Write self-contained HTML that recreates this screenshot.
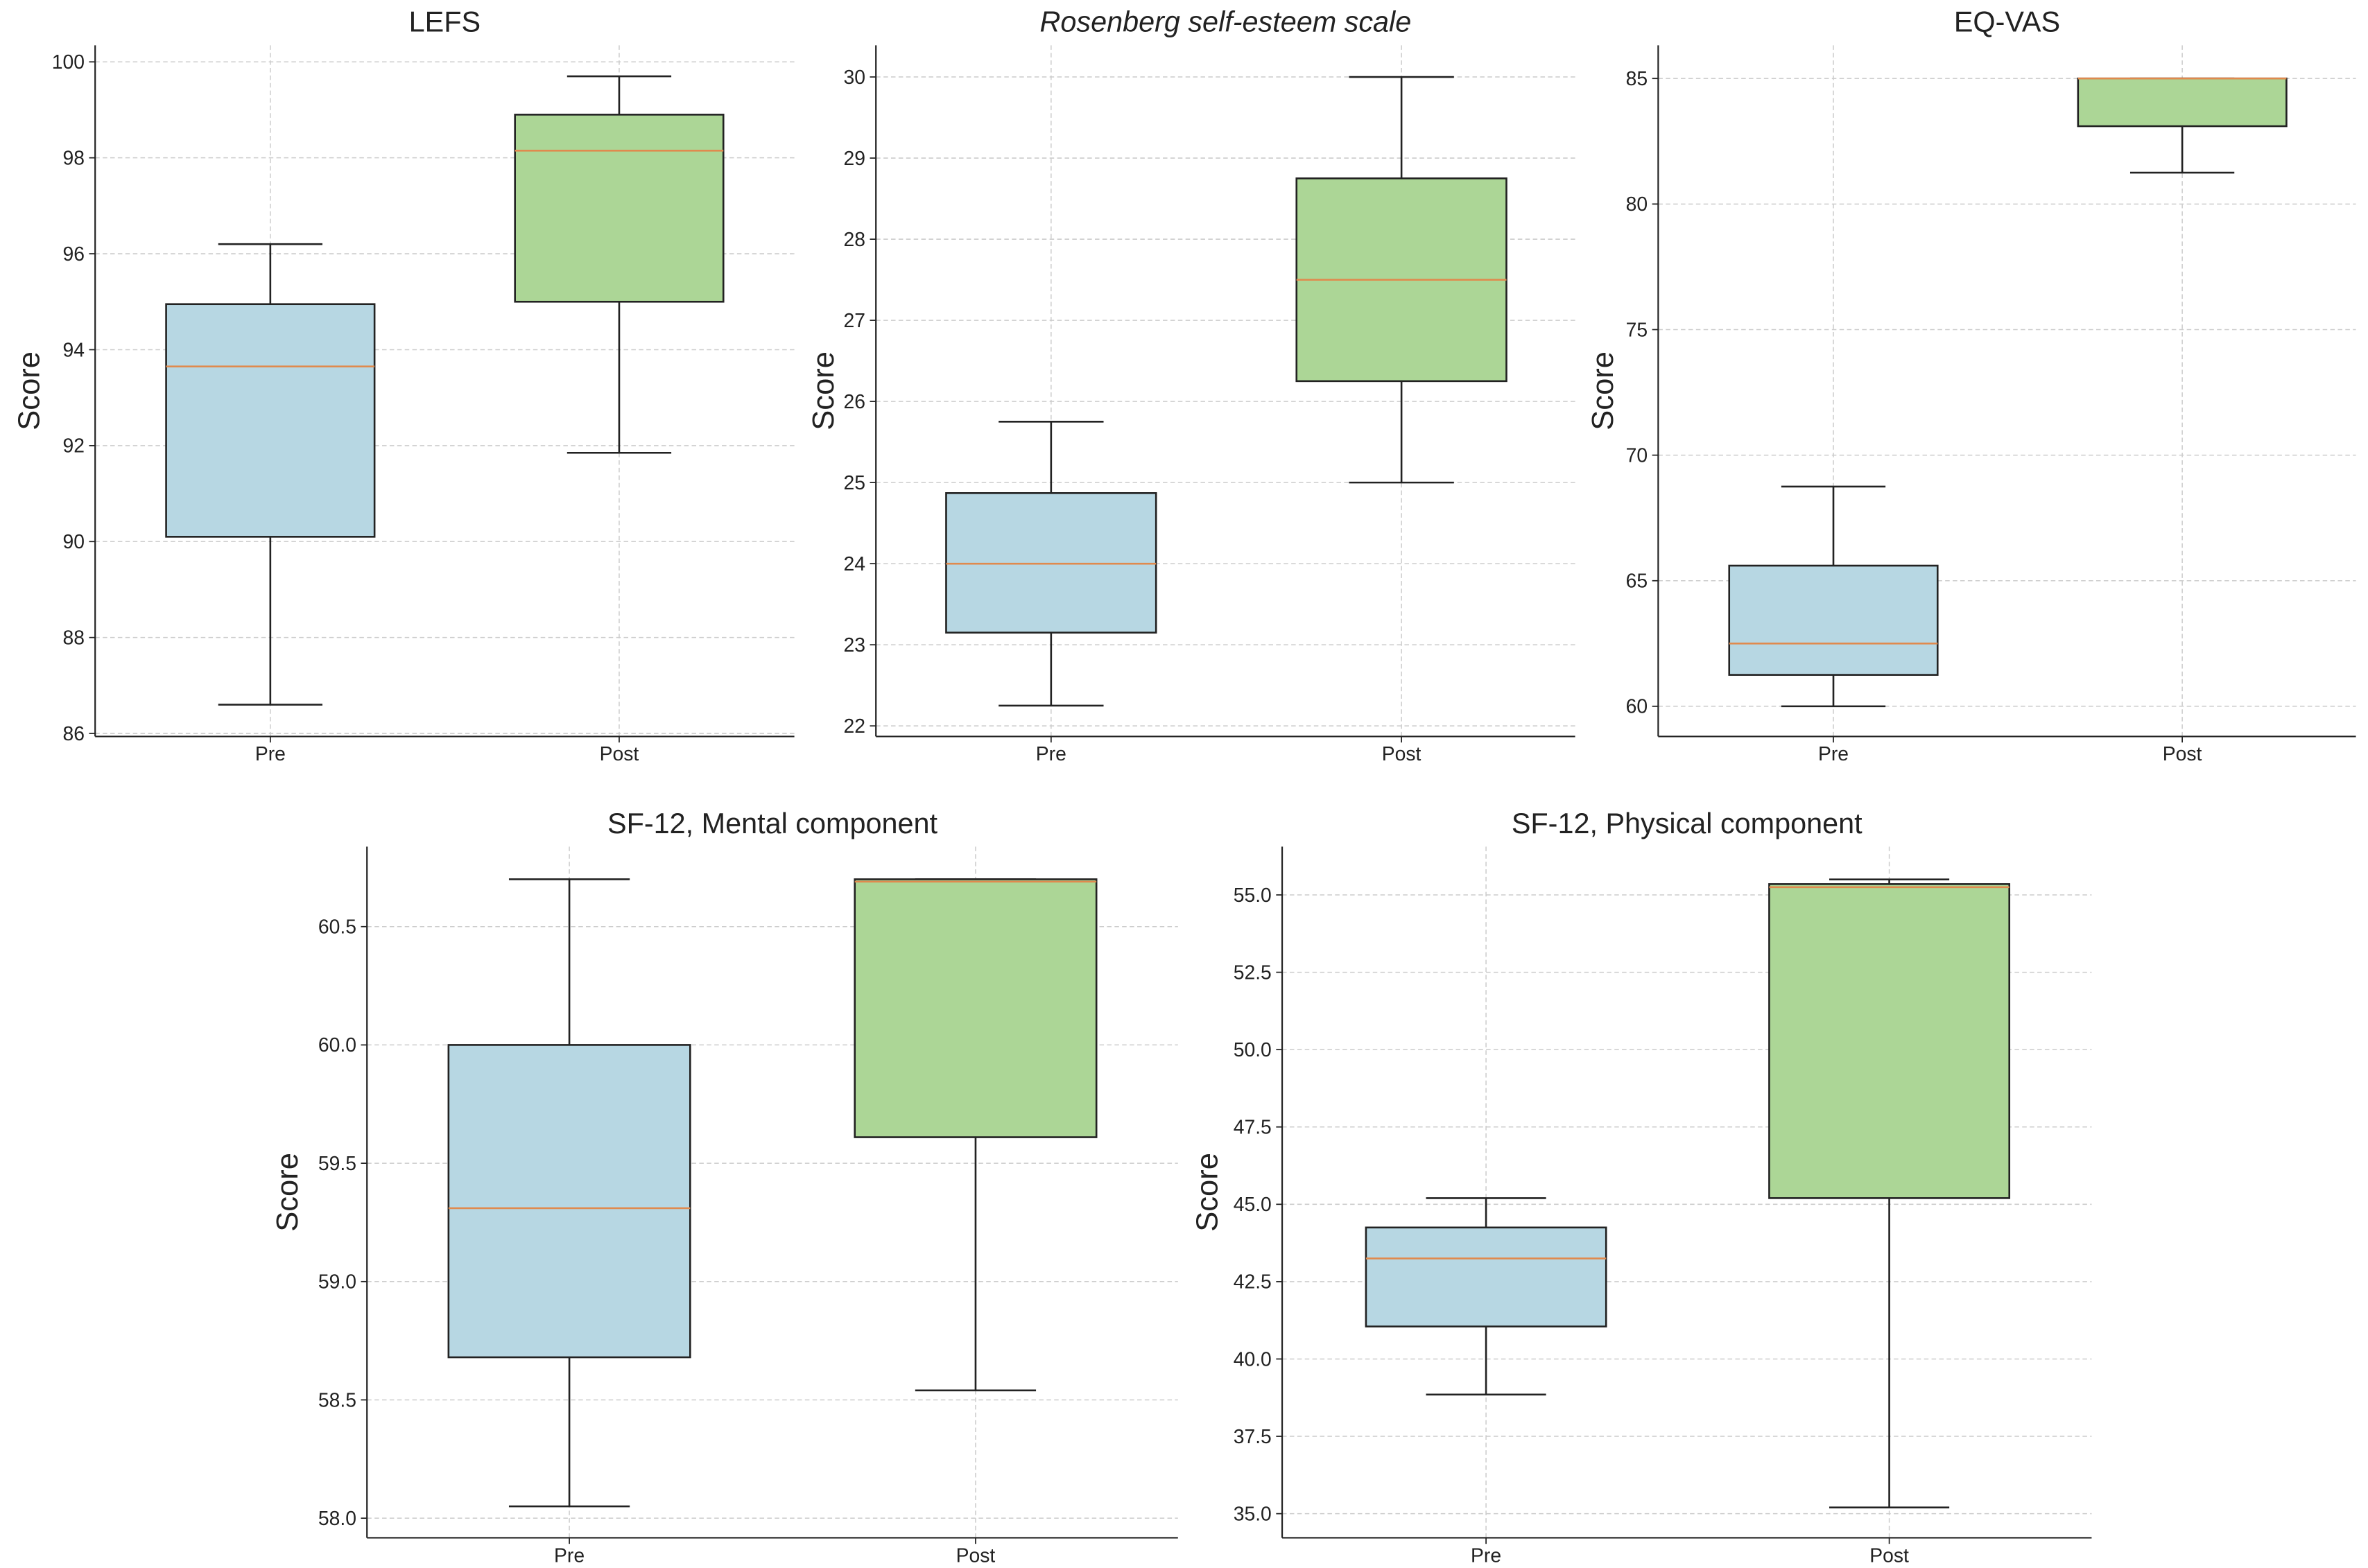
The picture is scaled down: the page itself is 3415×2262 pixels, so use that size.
<!DOCTYPE html>
<html><head><meta charset="utf-8"><style>
html,body{margin:0;padding:0;background:#fff;}
svg{display:block;}
text{font-family:"Liberation Sans",sans-serif;fill:#222;}
</style></head><body>
<svg id="fig" width="3415" height="2262" viewBox="0 0 1568 1039" preserveAspectRatio="none" xmlns="http://www.w3.org/2000/svg"></svg>
<script>
const categories = ["Pre","Post"];
const titles = ["LEFS","Rosenberg self-esteem scale","EQ-VAS","SF-12, Mental component","SF-12, Physical component"];
// [whiskerLow, Q1, median, Q3, whiskerHigh]
const lefsPre = [86.6, 90.1, 93.65, 94.95, 96.2];
const lefsPost = [91.85, 95.0, 98.15, 98.9, 99.7];
const rosPre = [22.25, 23.15, 24.0, 24.87, 25.75];
const rosPost = [25.0, 26.25, 27.5, 28.75, 30.0];
const eqPre = [60, 61.25, 62.5, 65.6, 68.75];
const eqPost = [81.25, 83.1, 85, 85, 85];
const mentalPre = [58.05, 58.68, 59.31, 60.0, 60.7];
const mentalPost = [58.54, 59.61, 60.69, 60.7, 60.7];
const physPre = [38.85, 41.05, 43.25, 44.25, 45.2];
const physPost = [35.2, 45.2, 55.25, 55.35, 55.5];
const lefsTicks = [86,88,90,92,94,96,98,100];
const rosTicks = [22,23,24,25,26,27,28,29,30];
const eqTicks = [60,65,70,75,80,85];
const mentalTicks = ["58.0","58.5","59.0","59.5","60.0","60.5"];
const physTicks = ["35.0","37.5","40.0","42.5","45.0","47.5","50.0","52.5","55.0"];

const panels = [
 {name:"lefs", box:[63,526,30,488], ref:[100,41,86,486], xs:[179,410], bw:138, data:[lefsPre,lefsPost], ticks:lefsTicks, italic:false, ylabelX:19},
 {name:"rosenberg", box:[580,1043,30,488], ref:[30,51,22,481], xs:[696,928], bw:139, data:[rosPre,rosPost], ticks:rosTicks, italic:true, ylabelX:545},
 {name:"eq-vas", box:[1098,1560,30,488], ref:[85,52,60,468], xs:[1214,1445], bw:138, data:[eqPre,eqPost], ticks:eqTicks, italic:false, ylabelX:1061},
 {name:"sf12-mental", box:[243,780,561,1019], ref:[60.5,614,58.0,1006], xs:[377,646], bw:160, data:[mentalPre,mentalPost], ticks:mentalTicks, italic:false, ylabelX:190},
 {name:"sf12-physical", box:[849,1385,561,1019], ref:[55,593,35,1003], xs:[984,1251], bw:159, data:[physPre,physPost], ticks:physTicks, italic:false, ylabelX:799}
];
const fills = ["#b7d7e3","#acd696"];
const NS = "http://www.w3.org/2000/svg";
const svg = document.getElementById("fig");
function mk(tag, attrs, parent){
  const e = document.createElementNS(NS, tag);
  for (const k in attrs) e.setAttribute(k, attrs[k]);
  (parent||svg).appendChild(e);
  return e;
}
panels.forEach((p, pi) => {
  const [L,R,T,B] = p.box;
  const [v1,y1,v2,y2] = p.ref;
  const y = v => y1 + (v - v1) * (y2 - y1) / (v2 - v1);
  const g = mk("g", {});
  
  
  // grid
  p.ticks.forEach(t => {
    const yy = y(parseFloat(t));
    const gl = mk("line", {x1:L, x2:R, y1:yy, y2:yy, stroke:"#cccccc", "stroke-width":0.7, "stroke-dasharray":"3,2"}, g);
    
    
    mk("line", {x1:L-4, x2:L, y1:yy, y2:yy, stroke:"#222", "stroke-width":0.8}, g);
    const tl = mk("text", {x:L-7, y:yy+4.5, "text-anchor":"end", "font-size":13}, g);
    tl.textContent = t;
    
    
  });
  p.xs.forEach((x, i) => {
    const vg = mk("line", {x1:x, x2:x, y1:T, y2:B, stroke:"#cccccc", "stroke-width":0.7, "stroke-dasharray":"3,2"}, g);
    
    
    mk("line", {x1:x, x2:x, y1:B, y2:B+4, stroke:"#222", "stroke-width":0.8}, g);
    const xl = mk("text", {x:x, y:B+16, "text-anchor":"middle", "font-size":13}, g);
    xl.textContent = categories[i];
    
    
  });
  // axes spines
  mk("line", {x1:L, x2:L, y1:T, y2:B, stroke:"#222", "stroke-width":1}, g);
  mk("line", {x1:L, x2:R, y1:B, y2:B, stroke:"#222", "stroke-width":1}, g);
  // boxes
  p.data.forEach((d, i) => {
    const x = p.xs[i], hw = p.bw/2, cap = p.bw/4;
    const bg = mk("g", {}, g);
    
    
    mk("line", {x1:x, x2:x, y1:y(d[0]), y2:y(d[1]), stroke:"#222", "stroke-width":1.2}, bg);
    mk("line", {x1:x, x2:x, y1:y(d[3]), y2:y(d[4]), stroke:"#222", "stroke-width":1.2}, bg);
    mk("line", {x1:x-cap, x2:x+cap, y1:y(d[0]), y2:y(d[0]), stroke:"#222", "stroke-width":1.2}, bg);
    mk("line", {x1:x-cap, x2:x+cap, y1:y(d[4]), y2:y(d[4]), stroke:"#222", "stroke-width":1.2}, bg);
    mk("rect", {x:x-hw, y:y(d[3]), width:p.bw, height:Math.max(0.5, y(d[1])-y(d[3])), fill:fills[i], stroke:"#222", "stroke-width":1.2}, bg);
    mk("line", {x1:x-hw, x2:x+hw, y1:y(d[2]), y2:y(d[2]), stroke:"#e08a4e", "stroke-width":1.2}, bg);
  });
  // title
  const tt = mk("text", {x:(L+R)/2, y:T-9, "text-anchor":"middle", "font-size":19}, g);
  if (p.italic) tt.setAttribute("font-style", "italic");
  tt.textContent = titles[pi];
  
  
  // y label
  const yl = mk("text", {x:p.ylabelX, y:(T+B)/2, "text-anchor":"middle", "font-size":20, transform:`rotate(-90 ${p.ylabelX} ${(T+B)/2})`, dy:"0.35em"}, g);
  yl.textContent = "Score";
  
  
});
</script>
</body></html>
